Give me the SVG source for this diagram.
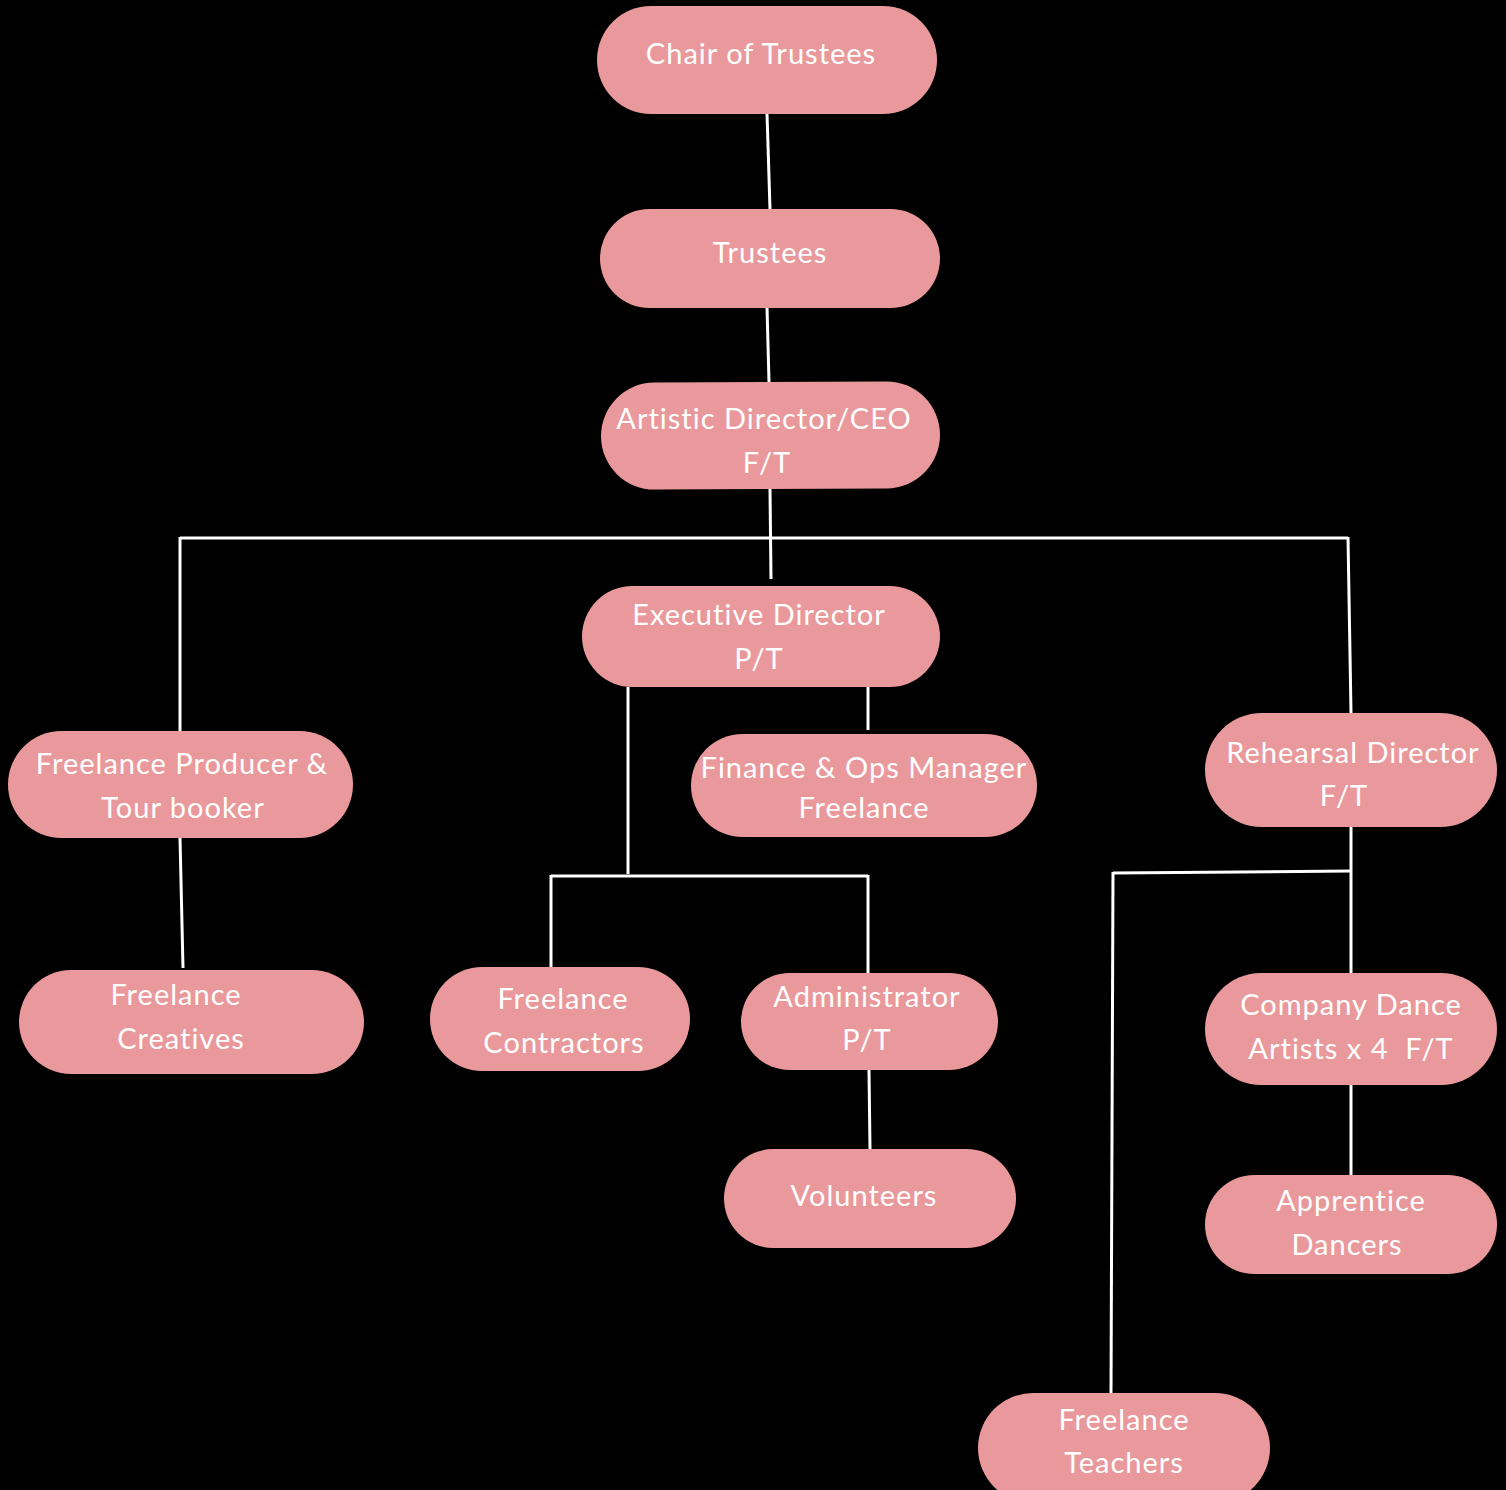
<svg xmlns="http://www.w3.org/2000/svg" width="1506" height="1490" viewBox="0 0 1506 1490">
<style>
.n{fill:#E9999B}
.t{fill:#FFFFFF;font-family:Lato,"Open Sans","Liberation Sans",sans-serif;font-size:29px;font-weight:400;letter-spacing:1px;text-anchor:middle}
.c{stroke:#FFFFFF;stroke-width:3;fill:none}
</style>
<rect x="0" y="0" width="1506" height="1490" fill="#000000"/>
<g id="connectors">
<line class="c" x1="767" y1="114" x2="770" y2="209"/>
<line class="c" x1="767" y1="307" x2="769" y2="382"/>
<line class="c" x1="770" y1="489" x2="771" y2="579"/>
<line class="c" x1="180" y1="538" x2="1348" y2="538"/>
<line class="c" x1="180" y1="537" x2="180" y2="731"/>
<line class="c" x1="1348" y1="537" x2="1351" y2="713"/>
<line class="c" x1="628" y1="687" x2="628" y2="874"/>
<line class="c" x1="868" y1="687" x2="868" y2="730"/>
<line class="c" x1="551" y1="876" x2="868" y2="876"/>
<line class="c" x1="551" y1="875" x2="551" y2="967"/>
<line class="c" x1="868" y1="875" x2="868" y2="973"/>
<line class="c" x1="180" y1="838" x2="183" y2="968"/>
<line class="c" x1="1351" y1="827" x2="1351" y2="973"/>
<line class="c" x1="1113" y1="873" x2="1351" y2="871"/>
<line class="c" x1="1113" y1="872" x2="1111" y2="1393"/>
<line class="c" x1="869" y1="1070" x2="870" y2="1149"/>
<line class="c" x1="1351" y1="1085" x2="1351" y2="1175"/>
</g>
<g id="chair">
<rect class="n" x="597" y="6" width="340" height="108" rx="54"/>
<text class="t" x="761" y="64">Chair of Trustees</text>
</g>
<g id="trustees">
<rect class="n" x="600" y="209" width="340" height="99" rx="49.5"/>
<text class="t" x="770" y="263">Trustees</text>
</g>
<g id="artistic">
<rect class="n" x="601" y="382" width="339" height="107" rx="53.5" transform="rotate(-0.3 770 435)"/>
<text class="t" x="764" y="429">Artistic Director/CEO</text>
<text class="t" x="767" y="473">F/T</text>
</g>
<g id="executive">
<rect class="n" x="582" y="586" width="358" height="101" rx="50.5"/>
<text class="t" x="759" y="625">Executive Director</text>
<text class="t" x="759" y="669">P/T</text>
</g>
<g id="producer">
<rect class="n" x="8" y="731" width="345" height="107" rx="53.5"/>
<text class="t" x="182" y="774">Freelance Producer &amp;</text>
<text class="t" x="183" y="818">Tour booker</text>
</g>
<g id="finance">
<rect class="n" x="691" y="734" width="346" height="103" rx="51.5"/>
<text class="t" x="864" y="778">Finance &amp; Ops Manager</text>
<text class="t" x="864" y="818">Freelance</text>
</g>
<g id="rehearsal">
<rect class="n" x="1205" y="713" width="292" height="114" rx="57"/>
<text class="t" x="1353" y="763">Rehearsal Director</text>
<text class="t" x="1344" y="806">F/T</text>
</g>
<g id="creatives">
<rect class="n" x="19" y="970" width="345" height="104" rx="52"/>
<text class="t" x="176" y="1005">Freelance</text>
<text class="t" x="181" y="1049">Creatives</text>
</g>
<g id="contractors">
<rect class="n" x="430" y="967" width="260" height="104" rx="52"/>
<text class="t" x="563" y="1009">Freelance</text>
<text class="t" x="564" y="1053">Contractors</text>
</g>
<g id="administrator">
<rect class="n" x="741" y="973" width="257" height="97" rx="48.5"/>
<text class="t" x="867" y="1007">Administrator</text>
<text class="t" x="867" y="1050">P/T</text>
</g>
<g id="volunteers">
<rect class="n" x="724" y="1149" width="292" height="99" rx="49.5"/>
<text class="t" x="864" y="1206">Volunteers</text>
</g>
<g id="company">
<rect class="n" x="1205" y="973" width="292" height="112" rx="56"/>
<text class="t" x="1351" y="1015">Company Dance</text>
<text class="t" x="1351" y="1059" xml:space="preserve">Artists x 4  F/T</text>
</g>
<g id="apprentice">
<rect class="n" x="1205" y="1175" width="292" height="99" rx="49.5"/>
<text class="t" x="1351" y="1211">Apprentice</text>
<text class="t" x="1347" y="1255">Dancers</text>
</g>
<g id="teachers">
<rect class="n" x="978" y="1393" width="292" height="110" rx="55"/>
<text class="t" x="1124" y="1430">Freelance</text>
<text class="t" x="1124" y="1473">Teachers</text>
</g>
</svg>
